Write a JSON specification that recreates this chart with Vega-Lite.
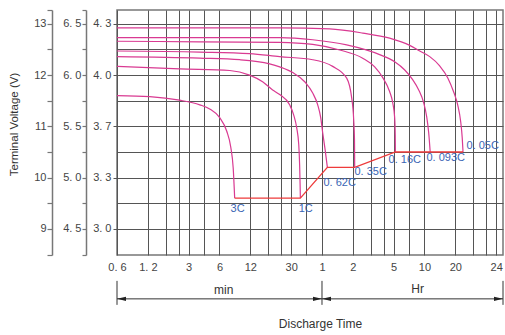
{
  "$schema": "https://vega.github.io/schema/vega-lite/v6.json",
  "width": 386,
  "height": 245,
  "autosize": {"type": "none"},
  "padding": {"left": 117, "top": 10, "right": 2, "bottom": 80},
  "background": "white",
  "config": {
    "font": "Liberation Sans",
    "view": {"stroke": "#777", "strokeWidth": 1.5}
  },
  "datasets": {
    "curves": [
      {"rate": "0.05C", "t": 0.6, "v": 12.92}, {"rate": "0.05C", "t": 3.85, "v": 12.92}, {"rate": "0.05C", "t": 23.2, "v": 12.92},
      {"rate": "0.05C", "t": 71.3, "v": 12.9}, {"rate": "0.05C", "t": 150, "v": 12.82}, {"rate": "0.05C", "t": 274, "v": 12.72},
      {"rate": "0.05C", "t": 431, "v": 12.58}, {"rate": "0.05C", "t": 539, "v": 12.47}, {"rate": "0.05C", "t": 675, "v": 12.36},
      {"rate": "0.05C", "t": 844, "v": 12.18}, {"rate": "0.05C", "t": 1010, "v": 11.95}, {"rate": "0.05C", "t": 1156, "v": 11.67},
      {"rate": "0.05C", "t": 1265, "v": 11.42}, {"rate": "0.05C", "t": 1353, "v": 11.09}, {"rate": "0.05C", "t": 1400, "v": 10.78},
      {"rate": "0.05C", "t": 1426, "v": 10.5},
      {"rate": "0.093C", "t": 0.6, "v": 12.73}, {"rate": "0.093C", "t": 3.85, "v": 12.73}, {"rate": "0.093C", "t": 23.2, "v": 12.73},
      {"rate": "0.093C", "t": 48.7, "v": 12.69}, {"rate": "0.093C", "t": 104.5, "v": 12.59}, {"rate": "0.093C", "t": 219, "v": 12.4},
      {"rate": "0.093C", "t": 307, "v": 12.26}, {"rate": "0.093C", "t": 385, "v": 12.1}, {"rate": "0.093C", "t": 460, "v": 11.91},
      {"rate": "0.093C", "t": 527, "v": 11.71}, {"rate": "0.093C", "t": 589, "v": 11.46}, {"rate": "0.093C", "t": 630, "v": 11.19},
      {"rate": "0.093C", "t": 659, "v": 10.88}, {"rate": "0.093C", "t": 682, "v": 10.5},
      {"rate": "0.16C", "t": 0.6, "v": 12.66}, {"rate": "0.16C", "t": 3.85, "v": 12.65}, {"rate": "0.16C", "t": 23.2, "v": 12.64},
      {"rate": "0.16C", "t": 48.7, "v": 12.6}, {"rate": "0.16C", "t": 89.3, "v": 12.49}, {"rate": "0.16C", "t": 149.7, "v": 12.33},
      {"rate": "0.16C", "t": 196, "v": 12.16}, {"rate": "0.16C", "t": 235, "v": 11.95}, {"rate": "0.16C", "t": 274, "v": 11.68},
      {"rate": "0.16C", "t": 294, "v": 11.46}, {"rate": "0.16C", "t": 307, "v": 11.17}, {"rate": "0.16C", "t": 311, "v": 10.83},
      {"rate": "0.16C", "t": 312, "v": 10.5},
      {"rate": "0.35C", "t": 0.6, "v": 12.47}, {"rate": "0.35C", "t": 3.85, "v": 12.45}, {"rate": "0.35C", "t": 11.8, "v": 12.42},
      {"rate": "0.35C", "t": 23.2, "v": 12.36}, {"rate": "0.35C", "t": 48.7, "v": 12.3}, {"rate": "0.35C", "t": 76.3, "v": 12.17},
      {"rate": "0.35C", "t": 104.5, "v": 11.94}, {"rate": "0.35C", "t": 117, "v": 11.55}, {"rate": "0.35C", "t": 122.3, "v": 11.13},
      {"rate": "0.35C", "t": 124.5, "v": 10.74}, {"rate": "0.35C", "t": 125.1, "v": 10.2},
      {"rate": "0.62C", "t": 0.6, "v": 12.36}, {"rate": "0.62C", "t": 3.85, "v": 12.33}, {"rate": "0.62C", "t": 9.44, "v": 12.3},
      {"rate": "0.62C", "t": 18.5, "v": 12.22}, {"rate": "0.62C", "t": 23.2, "v": 12.16}, {"rate": "0.62C", "t": 31.1, "v": 12.05},
      {"rate": "0.62C", "t": 40.7, "v": 11.87}, {"rate": "0.62C", "t": 48.7, "v": 11.65}, {"rate": "0.62C", "t": 54.5, "v": 11.42},
      {"rate": "0.62C", "t": 58.3, "v": 11.17}, {"rate": "0.62C", "t": 61, "v": 10.87}, {"rate": "0.62C", "t": 64.4, "v": 10.54},
      {"rate": "0.62C", "t": 67.7, "v": 10.2},
      {"rate": "1C", "t": 0.6, "v": 12.17}, {"rate": "1C", "t": 2.45, "v": 12.12}, {"rate": "1C", "t": 7.55, "v": 12.09},
      {"rate": "1C", "t": 11.8, "v": 12.0}, {"rate": "1C", "t": 15.8, "v": 11.87}, {"rate": "1C", "t": 19.8, "v": 11.71},
      {"rate": "1C", "t": 23.2, "v": 11.62}, {"rate": "1C", "t": 29, "v": 11.42}, {"rate": "1C", "t": 31.8, "v": 11.22},
      {"rate": "1C", "t": 34, "v": 10.97}, {"rate": "1C", "t": 35.6, "v": 10.64}, {"rate": "1C", "t": 36.3, "v": 10.25},
      {"rate": "1C", "t": 36.7, "v": 9.86}, {"rate": "1C", "t": 36.9, "v": 9.6},
      {"rate": "3C", "t": 0.6, "v": 11.6}, {"rate": "3C", "t": 1.25, "v": 11.58}, {"rate": "3C", "t": 2.45, "v": 11.51},
      {"rate": "3C", "t": 3.85, "v": 11.42}, {"rate": "3C", "t": 4.81, "v": 11.34}, {"rate": "3C", "t": 6.03, "v": 11.17},
      {"rate": "3C", "t": 7.05, "v": 10.91}, {"rate": "3C", "t": 7.72, "v": 10.6}, {"rate": "3C", "t": 8.16, "v": 10.19},
      {"rate": "3C", "t": 8.44, "v": 9.6}
    ],
    "cutoff": [
      {"t": 8.44, "v": 9.6}, {"t": 36.9, "v": 9.6}, {"t": 67.7, "v": 10.2}, {"t": 125.1, "v": 10.2},
      {"t": 312, "v": 10.5}, {"t": 682, "v": 10.5}, {"t": 1426, "v": 10.5}
    ],
    "labels": [
      {"label": "3C", "t": 9.0, "v": 9.39}, {"label": "1C", "t": 41.6, "v": 9.39},
      {"label": "0. 62C", "t": 89.3, "v": 9.9}, {"label": "0. 35C", "t": 179, "v": 10.11},
      {"label": "0. 16C", "t": 385, "v": 10.35}, {"label": "0. 093C", "t": 966, "v": 10.39},
      {"label": "0. 05C", "t": 2219, "v": 10.62}
    ],
    "dims": [
      {"t": 0.6, "v": 7.985, "v2": 7.517}, {"t": 60, "v": 7.985, "v2": 7.517}, {"t": 3500, "v": 7.985, "v2": 7.517}
    ],
    "span": [{"t": 0.6, "t2": 3500, "v": 7.634}],
    "arrows": [
      {"t": 0.6, "v": 7.634, "dir": "left"}, {"t": 60, "v": 7.634, "dir": "right"},
      {"t": 60, "v": 7.634, "dir": "left"}, {"t": 3500, "v": 7.634, "dir": "right"}
    ],
    "dimtext": [{"label": "min", "t": 6.6, "v": 7.81}, {"label": "Hr", "t": 515, "v": 7.83}]
  },
  "encoding": {
    "x": {
      "field": "t", "type": "quantitative",
      "scale": {"type": "log", "domain": [0.6, 3500], "nice": false},
      "axis": {
        "values": [0.6, 1.2, 1.8, 2.4, 3, 4.2, 6, 12, 18, 24, 30, 42, 60, 120, 180, 240, 300, 420, 600, 1200, 1800, 2400, 3000],
        "labelExpr": "datum.value==0.6?'0. 6':datum.value==1.2?'1. 2':datum.value==3?'3':datum.value==6?'6':datum.value==12?'12':datum.value==30?'30':datum.value==60?'1':datum.value==120?'2':datum.value==300?'5':datum.value==600?'10':datum.value==1200?'20':datum.value==3000?'24':''",
        "ticks": false, "domain": false, "grid": true, "gridColor": "#555", "gridWidth": 1, "gridOpacity": 1,
        "labelFontSize": 11, "labelColor": "#444", "labelPadding": 6, "labelOverlap": false, "labelFlush": false,
        "title": "Discharge Time", "titleFontWeight": "normal", "titleFontSize": 12, "titleColor": "#333",
        "titleX": 203, "titleY": 68, "titleBaseline": "middle", "titleAlign": "center"
      }
    },
    "y": {
      "field": "v", "type": "quantitative",
      "scale": {"domain": [8.49, 13.27], "nice": false, "zero": false},
      "axis": {
        "orient": "left", "offset": 0,
        "values": [9, 9.5, 10, 10.5, 11, 11.5, 12, 12.5, 13],
        "labelExpr": "datum.value==13?'4. 3':datum.value==12?'4. 0':datum.value==11?'3. 7':datum.value==10?'3. 3':datum.value==9?'3. 0':''",
        "grid": true, "gridColor": "#555", "gridWidth": 1, "gridOpacity": 1, "domain": false,
        "tickSize": 4, "tickColor": {"condition": {"test": "datum.value % 1 !== 0", "value": "transparent"}, "value": "#555"},
        "labelFontSize": 11, "labelColor": "#444", "labelPadding": 2, "title": null
      }
    }
  },
  "layer": [
    {
      "layer": [
        {
          "data": {"name": "curves"},
          "mark": {"type": "line", "interpolate": "monotone", "color": "#d93a92", "strokeWidth": 1.2},
          "encoding": {"detail": {"field": "rate", "type": "nominal"}}
        },
        {
          "data": {"name": "cutoff"},
          "mark": {"type": "line", "color": "#ee3b3b", "strokeWidth": 1.3},
          "encoding": {}
        },
        {
          "data": {"name": "labels"},
          "mark": {"type": "text", "align": "center", "baseline": "middle", "fontSize": 11, "color": "#3a64b4"},
          "encoding": {"text": {"field": "label", "type": "nominal"}}
        },
        {
          "data": {"name": "dims"},
          "mark": {"type": "rule", "color": "#333", "strokeWidth": 1},
          "encoding": {"y2": {"field": "v2"}}
        },
        {
          "data": {"name": "span"},
          "mark": {"type": "rule", "color": "#333", "strokeWidth": 1},
          "encoding": {"x2": {"field": "t2"}}
        },
        {
          "data": {"name": "arrows"},
          "mark": {"type": "point", "filled": true, "opacity": 1, "color": "#222", "size": 81},
          "encoding": {
            "shape": {
              "field": "dir", "type": "nominal",
              "scale": {"domain": ["left", "right"], "range": ["M0,0L2,-0.45L2,0.45Z", "M0,0L-2,-0.45L-2,0.45Z"]},
              "legend": null
            }
          }
        },
        {
          "data": {"name": "dimtext"},
          "mark": {"type": "text", "align": "center", "baseline": "middle", "fontSize": 12, "color": "#333"},
          "encoding": {"text": {"field": "label", "type": "nominal"}}
        }
      ]
    },
    {
      "data": {"name": "cutoff"},
      "mark": {"type": "point", "opacity": 0},
      "encoding": {
        "y": {
          "field": "v", "type": "quantitative",
          "scale": {"domain": [8.49, 13.27], "nice": false, "zero": false},
          "axis": {
            "orient": "left", "offset": 31,
            "values": [8.49, 9, 9.5, 10, 10.5, 11, 11.5, 12, 12.5, 13, 13.27],
            "labelExpr": "datum.value==13?'6. 5':datum.value==12?'6. 0':datum.value==11?'5. 5':datum.value==10?'5. 0':datum.value==9?'4. 5':''",
            "grid": false, "domain": true, "domainColor": "#777", "domainWidth": 1.5,
            "tickSize": 4, "tickColor": "#777", "tickWidth": 1.2,
            "labelFontSize": 11, "labelColor": "#444", "labelPadding": 1, "labelOverlap": false, "title": null
          }
        }
      }
    },
    {
      "data": {"name": "cutoff"},
      "mark": {"type": "point", "opacity": 0},
      "encoding": {
        "y": {
          "field": "v", "type": "quantitative",
          "scale": {"domain": [8.49, 13.27], "nice": false, "zero": false},
          "axis": {
            "orient": "left", "offset": 65,
            "values": [8.49, 9, 9.5, 10, 10.5, 11, 11.5, 12, 12.5, 13, 13.27],
            "labelExpr": "datum.value==13?'13':datum.value==12?'12':datum.value==11?'11':datum.value==10?'10':datum.value==9?'9':''",
            "grid": false, "domain": true, "domainColor": "#777", "domainWidth": 1.5,
            "tickSize": 5, "tickColor": "#777", "tickWidth": 1.2,
            "labelFontSize": 11, "labelColor": "#444", "labelPadding": 1, "labelOverlap": false,
            "title": "Terminal Voltage  (V)", "titleFontWeight": "normal", "titleFontSize": 11.5, "titleColor": "#333",
            "titleX": -38, "titleY": 114, "titleAngle": 270, "titleAlign": "center", "titleBaseline": "middle"
          }
        }
      }
    }
  ],
  "resolve": {"axis": {"y": "independent"}}
}
